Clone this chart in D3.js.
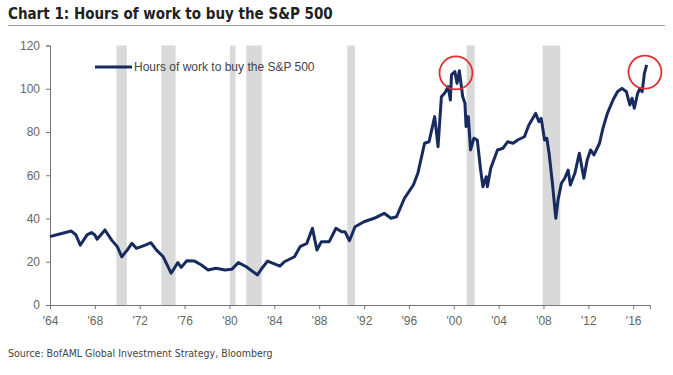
<!DOCTYPE html>
<html>
<head>
<meta charset="utf-8">
<script src="https://cdn.jsdelivr.net/npm/d3@7"></script>
<style>
  body { margin: 0; background: #fff; }
  svg { display: block; }
</style>
</head>
<body>
<div id="chart"></div>
<script>
// decimal year + hours of work
const years = [1964.0, 1964.6, 1965.3, 1965.9, 1966.3, 1966.7, 1967.3, 1967.7, 1968.0, 1968.2, 1968.9, 1969.5,
  1970.0, 1970.4, 1970.9, 1971.3, 1971.7, 1972.5, 1973.0, 1973.5, 1974.1, 1974.8, 1975.4, 1975.7, 1976.2, 1976.9,
  1977.5, 1978.1, 1978.8, 1979.6, 1980.2, 1980.8, 1981.5, 1982.5, 1982.9, 1983.4, 1984.5, 1984.9, 1985.8, 1986.3,
  1986.9, 1987.4, 1987.8, 1988.2, 1988.9, 1989.5, 1990.0, 1990.3, 1990.7, 1991.2, 1992.0, 1992.9, 1993.8, 1994.4,
  1994.9, 1995.6, 1996.4, 1996.8, 1997.4, 1997.8, 1998.3, 1998.6, 1998.9, 1999.2, 1999.5, 1999.7, 1999.8, 2000.1,
  2000.3, 2000.5, 2000.8, 2001.0, 2001.1, 2001.3, 2001.5, 2001.8, 2002.1, 2002.4, 2002.6, 2002.9, 2003.0, 2003.3,
  2003.9, 2004.4, 2004.8, 2005.3, 2005.7, 2006.3, 2006.7, 2007.3, 2007.6, 2007.8, 2008.1, 2008.3, 2008.5, 2008.8,
  2009.1, 2009.3, 2009.6, 2009.9, 2010.2, 2010.4, 2010.8, 2011.2, 2011.6, 2011.9, 2012.2, 2012.5, 2013.0, 2013.3,
  2013.7, 2014.2, 2014.6, 2015.0, 2015.4, 2015.7, 2015.9, 2016.1, 2016.4, 2016.6, 2016.8, 2017.0, 2017.2]
const hours = [31.6, 32.5, 33.4, 34.2, 32.5, 27.7, 32.4, 33.5, 32.4, 30.4, 34.7, 30,
  27, 22.3, 25.5, 28.5, 26.2, 27.7, 28.8, 25.4, 22.3, 14.7, 19.6, 17.4, 20.5, 20.3,
  18.5, 16.2, 17, 16.2, 16.5, 19.6, 17.7, 13.9, 17, 20.3, 18, 20, 22.3, 27,
  28.5, 35.5, 25.4, 29.3, 29.3, 35.5, 33.9, 33.9, 29.7, 36.2, 38.5, 40.1, 42.4, 40.1,
  40.8, 49.3, 55.5, 60.9, 74.8, 75.5, 87.1, 73.2, 96.3, 98, 101, 94.8, 106.4, 107.9,
  102.5, 108.3, 96.3, 93.3, 82.5, 87.1, 71.7, 77.1, 76.3, 62.4, 54.7, 59.3, 54.7, 63.2,
  71.7, 72.5, 75.5, 74.8, 76.3, 77.8, 83.2, 88.6, 84.8, 86.3, 76.3, 77.1, 70.2, 56.3,
  40.1, 48.6, 56.3, 58.6, 62.4, 55.5, 60.9, 70.2, 58.6, 67.1, 71.7, 69.4, 74.8, 81.7,
  88.6, 94.8, 98.6, 100.2, 98.6, 92.5, 95.6, 91, 97.9, 100.2, 98.6, 107.1, 111]

// US recessions (start, end)
const recessionStart = [1969.92, 1973.92, 1980.04, 1981.5, 1990.5, 2001.15, 2007.92]
const recessionEnd = [1970.85, 1975.2, 1980.55, 1982.88, 1991.2, 2001.87, 2009.5]

const yTicks = [0, 20, 40, 60, 80, 100, 120]
const xTicks = [1964, 1968, 1972, 1976, 1980, 1984, 1988, 1992, 1996, 2000, 2004, 2008, 2012, 2016]

// red circles around the two peaks
const circleYears = [2000.2, 2017.05]
const circleValues = [107.3, 107.7]

const width = 673
const height = 375
const font = "'Liberation Sans', Arial, sans-serif"

const svg = d3.select("#chart")
  .append("svg")
  .attr("width", width)
  .attr("height", height)

const x = d3.scaleLinear().domain([1964, 2017.5]).range([50, 650])
const y = d3.scaleLinear().domain([0, 120]).range([305, 45.5])

// Title
svg.append("text")
  .attr("x", 8)
  .attr("y", 19)
  .style("font-family", "'DejaVu Sans Condensed', 'Liberation Sans Narrow', sans-serif")
  .style("font-weight", "bold")
  .style("font-size", "15px")
  .style("fill", "#222")
  .text("Chart 1: Hours of work to buy the S&P 500")

svg.append("line")
  .attr("x1", 8).attr("x2", 665)
  .attr("y1", 25.5).attr("y2", 25.5)
  .attr("stroke", "#9a9a9a")
  .attr("stroke-width", 1)

// Recession bars
svg.selectAll(".recession")
  .data(recessionStart.map((s, i) => [s, recessionEnd[i]]))
  .enter()
  .append("rect")
  .attr("class", "recession")
  .attr("x", d => x(d[0]))
  .attr("width", d => x(d[1]) - x(d[0]))
  .attr("y", y(120))
  .attr("height", y(0) - y(120))
  .attr("fill", "#d9d9d9")

// Axes
const yAxis = svg.append("g")
  .attr("transform", `translate(${x(1964)},0)`)
  .call(d3.axisLeft(y).tickValues(yTicks).tickSize(4).tickPadding(6))

const xAxis = svg.append("g")
  .attr("transform", `translate(0,${y(0)})`)
  .call(d3.axisBottom(x).tickValues(xTicks).tickSize(4).tickPadding(7)
    .tickFormat(d => "'" + String(d).slice(2)))

;[yAxis, xAxis].forEach(g => {
  g.select(".domain").attr("stroke", "#777")
  g.selectAll(".tick line").attr("stroke", "#777")
  g.selectAll("text")
    .style("font-family", font)
    .style("font-size", "12px")
    .style("fill", "#666")
})

// Line
const data = years.map((yr, i) => ({ year: yr, value: hours[i] }))

svg.append("path")
  .datum(data)
  .attr("fill", "none")
  .attr("stroke", "#172b5e")
  .attr("stroke-width", 3)
  .attr("stroke-linejoin", "round")
  .attr("d", d3.line().x(d => x(d.year)).y(d => y(d.value)))

// Red circles
svg.selectAll(".peak")
  .data(circleYears.map((yr, i) => ({ year: yr, value: circleValues[i] })))
  .enter()
  .append("circle")
  .attr("class", "peak")
  .attr("cx", d => x(d.year))
  .attr("cy", d => y(d.value))
  .attr("r", 16.5)
  .attr("fill", "none")
  .attr("stroke", "#e0302f")
  .attr("stroke-width", 1.8)

// Legend
svg.append("line")
  .attr("x1", 95).attr("x2", 132)
  .attr("y1", 67).attr("y2", 67)
  .attr("stroke", "#172b5e")
  .attr("stroke-width", 3)

svg.append("text")
  .attr("x", 134)
  .attr("y", 71)
  .style("font-family", font)
  .style("font-size", "12px")
  .style("fill", "#444")
  .text("Hours of work to buy the S&P 500")

// Source
svg.append("text")
  .attr("x", 8)
  .attr("y", 357)
  .style("font-family", "'DejaVu Sans Condensed', 'Liberation Sans Narrow', sans-serif")
  .style("font-size", "10.5px")
  .style("fill", "#444")
  .text("Source: BofAML Global Investment Strategy, Bloomberg")
</script>
</body>
</html>
